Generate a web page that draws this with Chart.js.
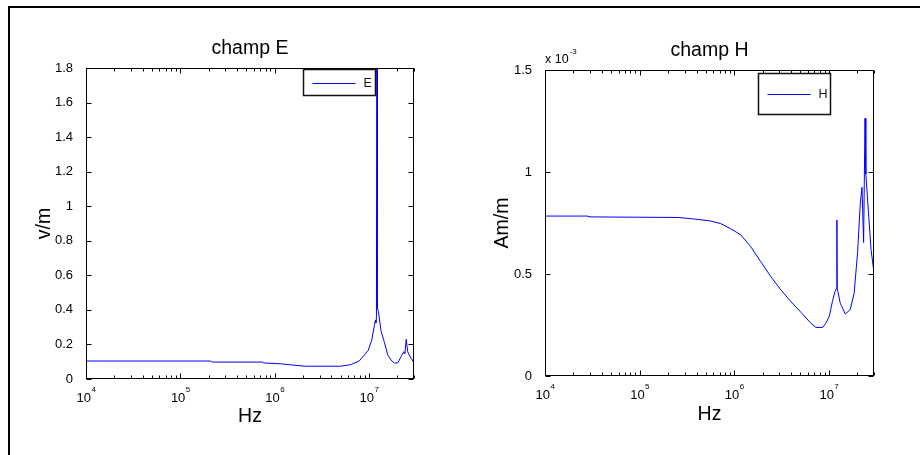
<!DOCTYPE html>
<html>
<head>
<meta charset="utf-8">
<title>champ E / champ H</title>
<script src="https://cdn.jsdelivr.net/npm/chart.js@4.4.1/dist/chart.umd.min.js"></script>
<style>
  body { margin: 0; background: #fff; }
  #page { position: relative; width: 920px; height: 455px; overflow: hidden; }
  #frame { position: absolute; left: 8px; top: 6px; right: -10px; bottom: -10px;
           border-top: 2px solid #000; border-left: 2px solid #000; }
  canvas { position: absolute; top: 0; }
</style>
</head>
<body>
<div id="page">
  <div id="frame"></div>
  <canvas id="champE" width="460" height="455" style="left:0"></canvas>
  <canvas id="champH" width="460" height="455" style="left:460px"></canvas>
</div>
<script>
// champ E (v/m) vs frequency (Hz)
const freqE = [1e4, 2.1e5, 2.2e5, 7.5e5, 7.6e5, 1.15e6, 1.6e6, 2.1e6, 5.0e6, 6.4e6,
  7.9e6, 9.8e6, 1.07e7, 1.14e7, 1.17e7, 1.185e7, 1.2e7, 1.216e7, 1.23e7, 1.26e7,
  1.34e7, 1.46e7, 1.58e7, 1.71e7, 1.86e7, 2.02e7, 2.19e7, 2.34e7, 2.40e7, 2.48e7,
  2.57e7, 2.79e7, 3.0e7];
const valuesE = [0.104, 0.104, 0.098, 0.098, 0.093, 0.088, 0.080, 0.074, 0.074, 0.083,
  0.105, 0.165, 0.225, 0.31, 0.34, 0.325, 0.36, 4.0, 0.41, 0.39,
  0.28, 0.21, 0.14, 0.11, 0.092, 0.093, 0.13, 0.158, 0.145, 0.23,
  0.158, 0.12, 0.094];

// champ H (x 10^-3 Am/m) vs frequency (Hz)
const freqH = [1e4, 2.85e4, 2.9e4, 2.6e5, 3.7e5, 5.6e5, 7.2e5, 9.1e5, 1.17e6, 1.49e6,
  1.9e6, 2.43e6, 3.1e6, 3.96e6, 5.05e6, 6.44e6, 7.3e6, 8.6e6, 9.3e6, 1.01e7,
  1.09e7, 1.16e7, 1.205e7, 1.216e7, 1.225e7, 1.32e7, 1.49e7, 1.68e7, 1.85e7, 2.01e7,
  2.15e7, 2.24e7, 2.33e7, 2.41e7, 2.46e7, 2.79e7, 3.0e7];
const valuesH = [0.784, 0.784, 0.780, 0.777, 0.770, 0.760, 0.747, 0.723, 0.692, 0.635,
  0.561, 0.488, 0.423, 0.365, 0.313, 0.259, 0.238, 0.238, 0.259, 0.292,
  0.365, 0.414, 0.43, 0.765, 0.43, 0.357, 0.304, 0.325, 0.406, 0.602,
  0.847, 0.925, 0.654, 1.263, 0.99, 0.62, 0.507];

const decadeTicks = [1e4, 1e5, 1e6, 1e7];
const freqRange = [1e4, 3e7];
const rangeE = [0, 1.8];
const rangeH = [0, 1.5];
const exponentH = '-3';

const FONT = "'Liberation Sans', Arial, Helvetica, sans-serif";
const BLUE = '#0000ff';

function toPoints(xs, ys) {
  return xs.map((x, i) => ({ x: x, y: ys[i] }));
}

function line(ctx, x1, y1, x2, y2) {
  ctx.beginPath();
  ctx.moveTo(x1, y1);
  ctx.lineTo(x2, y2);
  ctx.stroke();
}

// matlab-like axes: title over the plot box, inward ticks, 10^n labels, boxed legend
const matlabAxes = {
  id: 'matlabAxes',
  afterDatasetsDraw(chart, args, opts) {
    const { ctx, chartArea: a, scales: { x, y } } = chart;
    const L = Math.round(a.left) + 0.5, R = Math.round(a.right) - 0.5;
    const T = Math.round(a.top) + 0.5, B = Math.round(a.bottom) - 0.5;
    ctx.save();
    ctx.strokeStyle = '#000';
    ctx.lineWidth = 1;
    ctx.strokeRect(L, T, R - L, B - T);

    // title, centred on the plot box
    ctx.fillStyle = '#000';
    ctx.font = '19.5px ' + FONT;
    ctx.textAlign = 'center';
    ctx.textBaseline = 'middle';
    ctx.fillText(opts.title, (a.left + a.right) / 2, a.top - opts.titleGap);

    // y ticks, both sides
    y.ticks.forEach(t => {
      const py = Math.round(y.getPixelForValue(t.value)) + 0.5;
      line(ctx, L, py, L + 5, py);
      line(ctx, R, py, R - 5, py);
    });

    // x ticks, top and bottom, minor for 2..9
    const d0 = Math.floor(Math.log10(x.min)), d1 = Math.ceil(Math.log10(x.max));
    for (let d = d0; d <= d1; d++) {
      for (let m = 1; m <= 9; m++) {
        const v = m * Math.pow(10, d);
        if (v < x.min * 0.999 || v > x.max * 1.001) continue;
        const px = Math.round(x.getPixelForValue(v)) + 0.5;
        const len = m === 1 ? 5 : 3;
        line(ctx, px, B, px, B - len);
        line(ctx, px, T, px, T + len);
      }
    }

    // x labels 10^n
    ctx.textBaseline = 'alphabetic';
    ctx.textAlign = 'left';
    decadeTicks.forEach(v => {
      const px = x.getPixelForValue(v);
      const exp = String(Math.round(Math.log10(v)));
      ctx.font = '13px ' + FONT;
      const wb = ctx.measureText('10').width;
      ctx.font = '8px ' + FONT;
      const we = ctx.measureText(exp).width;
      const x0 = px - (wb + we) / 2;
      ctx.font = '13px ' + FONT;
      ctx.fillText('10', x0, a.bottom + 22.5);
      ctx.font = '8px ' + FONT;
      ctx.fillText(exp, x0 + wb + 0.5, a.bottom + 12.5);
    });

    // axis multiplier
    if (opts.exponent) {
      ctx.font = '12.5px ' + FONT;
      ctx.fillText('x 10', a.left, a.top - 7);
      const w = ctx.measureText('x 10').width;
      ctx.font = '8px ' + FONT;
      ctx.fillText(opts.exponent, a.left + w + 1, a.top - 16);
    }

    // boxed legend
    const lg = opts.legend;
    const ds = chart.data.datasets[0];
    const bx = Math.round(a.right - lg.right - lg.width) + 0.5;
    const by = Math.round(a.top + lg.top) + 0.5;
    ctx.fillStyle = '#fff';
    ctx.fillRect(bx, by, lg.width, lg.height);
    ctx.lineWidth = 1.5;
    ctx.strokeStyle = '#111';
    ctx.strokeRect(bx, by, lg.width, lg.height);
    const my = Math.round(by + lg.height / 2) + 0.5;
    ctx.lineWidth = 1;
    ctx.strokeStyle = ds.borderColor;
    line(ctx, bx + 9, my, bx + 52, my);
    ctx.fillStyle = '#111';
    ctx.font = '12.5px ' + FONT;
    ctx.textBaseline = 'middle';
    ctx.fillText(ds.label, bx + 60, my + 0.5);
    ctx.restore();
  }
};

function makeChart(id, cfg) {
  return new Chart(document.getElementById(id), {
    type: 'line',
    data: {
      datasets: [{
        label: cfg.label,
        data: toPoints(cfg.xs, cfg.ys),
        borderColor: BLUE,
        borderWidth: 1,
        pointRadius: 0,
        tension: 0,
        fill: false
      }]
    },
    options: {
      responsive: false,
      animation: false,
      devicePixelRatio: 1,
      layout: { padding: cfg.padding },
      plugins: {
        legend: { display: false },
        tooltip: { enabled: false },
        title: { display: false },
        matlabAxes: { title: cfg.title, titleGap: cfg.titleGap, legend: cfg.legend, exponent: cfg.exponent }
      },
      scales: {
        x: {
          type: 'logarithmic',
          min: freqRange[0],
          max: freqRange[1],
          grid: { display: false },
          border: { display: false },
          ticks: { display: false },
          title: {
            display: true, text: 'Hz', color: '#000',
            font: { family: FONT, size: 19.5 }, padding: 0
          },
          afterFit: s => { s.height = cfg.xHeight; }
        },
        y: {
          min: cfg.yRange[0],
          max: cfg.yRange[1],
          grid: { display: false },
          border: { display: false },
          ticks: {
            stepSize: cfg.yStep,
            padding: 5,
            color: '#000',
            font: { family: FONT, size: 13 },
            callback: v => String(+v.toFixed(1))
          },
          title: {
            display: true, text: cfg.yTitle, color: '#000',
            font: { family: FONT, size: 19.5 }, padding: 0
          },
          afterFit: s => { s.width = cfg.yWidth; }
        }
      }
    },
    plugins: [matlabAxes]
  });
}

makeChart('champE', {
  label: 'E', title: 'champ E', yTitle: 'v/m', titleGap: 19.3,
  xs: freqE, ys: valuesE, yRange: rangeE, yStep: 0.2,
  padding: { left: 33, right: 46, top: 68, bottom: 27 },
  xHeight: 49, yWidth: 53,
  legend: { width: 72, height: 26, right: 39, top: 1 }
});

makeChart('champH', {
  label: 'H', title: 'champ H', yTitle: 'Am/m', titleGap: 19.7,
  xs: freqH, ys: valuesH, yRange: rangeH, yStep: 0.5,
  padding: { left: 31, right: 46, top: 70, bottom: 29 },
  xHeight: 50, yWidth: 54,
  legend: { width: 72, height: 41, right: 44, top: 3 },
  exponent: exponentH
});
</script>
</body>
</html>
